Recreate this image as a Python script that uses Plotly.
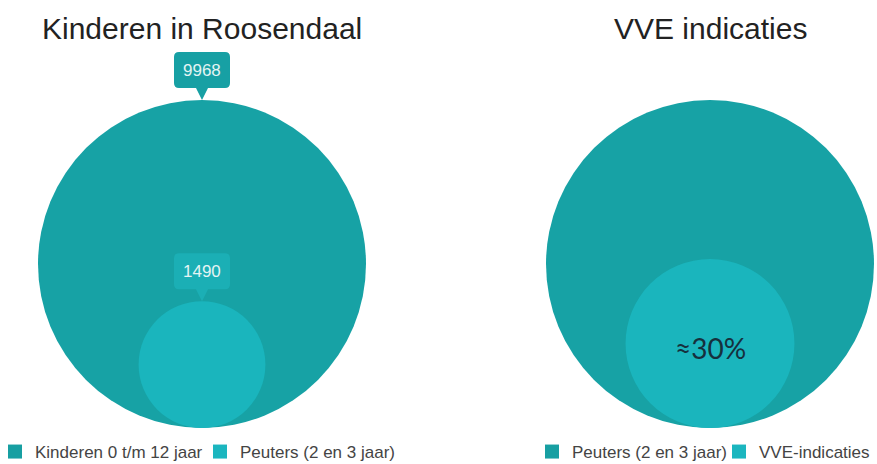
import math
import plotly.graph_objects as go

# ---- data ----
titles = ["Kinderen in Roosendaal", "VVE indicaties"]
chart1_categories = ["Kinderen 0 t/m 12 jaar", "Peuters (2 en 3 jaar)"]
chart1_values = [9968, 1490]
chart2_categories = ["Peuters (2 en 3 jaar)", "VVE-indicaties"]
chart2_values = [1490, 395]  # estimated from circle size
chart2_center_label = "≈30%"

# ---- styling / layout ----
W, H = 877, 464
BIG_COLOR = "#17A2A5"
SMALL_COLOR = "#1AB5BD"
LEG_COLORS = ["#179FA2", "#1BB6BF"]
BOX_COLORS = ["#17A0A4", "#1BAFB5"]
CENTERS_X = [202, 710]
BOTTOM_Y = 428
R_BIG = 164
FONT = "Liberation Sans, Arial, sans-serif"
LEGEND_TEXT_X = [35, 240, 572, 759]

fig = go.Figure()
shapes = []
annotations = []


def circle(cx, r, color):
    return dict(type="circle", xref="x", yref="y",
                x0=cx - r, x1=cx + r, y0=BOTTOM_Y - 2 * r, y1=BOTTOM_Y,
                fillcolor=color, line=dict(width=0), layer="above")


def callout(cx, tip_y, color, w=56, h=36, ph=12, pw=12, rad=5):
    b = tip_y - ph
    t = b - h
    l, r = cx - w / 2, cx + w / 2
    p = (f"M {l+rad},{t} L {r-rad},{t} Q {r},{t} {r},{t+rad} "
         f"L {r},{b-rad} Q {r},{b} {r-rad},{b} "
         f"L {cx+pw/2},{b} L {cx},{tip_y} L {cx-pw/2},{b} "
         f"L {l+rad},{b} Q {l},{b} {l},{b-rad} "
         f"L {l},{t+rad} Q {l},{t} {l+rad},{t} Z")
    return dict(type="path", xref="x", yref="y", path=p,
                fillcolor=color, line=dict(width=0), layer="above"), (t + b) / 2


for i, (vals, cx) in enumerate([(chart1_values, CENTERS_X[0]), (chart2_values, CENTERS_X[1])]):
    big, small = vals
    r_small = R_BIG * math.sqrt(small / big)
    shapes.append(circle(cx, R_BIG, BIG_COLOR))
    shapes.append(circle(cx, r_small, SMALL_COLOR))
    annotations.append(dict(x=cx, y=28, xref="x", yref="y", text=titles[i],
                            showarrow=False, font=dict(family=FONT, size=30, color="#222222")))
    if i == 0:
        for v, top, col in [(big, BOTTOM_Y - 2 * R_BIG, BOX_COLORS[0]),
                            (small, BOTTOM_Y - 2 * r_small, BOX_COLORS[1])]:
            shp, cy = callout(cx, top, col)
            shapes.append(shp)
            annotations.append(dict(x=cx, y=cy, xref="x", yref="y", text=str(v),
                                    showarrow=False,
                                    font=dict(family=FONT, size=17, color="#E4F4F4")))
    else:
        annotations.append(dict(x=cx, y=BOTTOM_Y - r_small + 4, xref="x", yref="y",
                                text=chart2_center_label, showarrow=False,
                                font=dict(family="Lato, sans-serif", size=28, color="#16303D")))

# legend entries, one legend per entry so each can sit exactly
legend_names = ["legend", "legend2", "legend3", "legend4"]
all_cats = chart1_categories + chart2_categories
layout_legends = {}
for k, name in enumerate(all_cats):
    fig.add_trace(go.Scatter(x=[None], y=[None], mode="markers", name=name,
                             marker=dict(symbol="square", size=14, color=LEG_COLORS[k % 2]),
                             legend=legend_names[k], hoverinfo="skip"))
    layout_legends[legend_names[k]] = dict(
        orientation="h", yanchor="middle", y=1 - 452 / H, xanchor="left",
        x=(LEGEND_TEXT_X[k] - 40) / W,
        font=dict(family=FONT, size=17, color="#444444"),
        bgcolor="rgba(0,0,0,0)", itemclick=False, itemdoubleclick=False)

fig.update_layout(
    width=W, height=H,
    margin=dict(l=0, r=0, t=0, b=0, autoexpand=False),
    paper_bgcolor="white", plot_bgcolor="white",
    xaxis=dict(range=[0, W], visible=False, fixedrange=True),
    yaxis=dict(range=[H, 0], visible=False, fixedrange=True),
    shapes=shapes, annotations=annotations,
    showlegend=True,
    **layout_legends,
)

fig.write_html("out.html", config={"displayModeBar": False},
               post_script="document.body.style.margin='0';document.body.style.overflow='hidden';")
